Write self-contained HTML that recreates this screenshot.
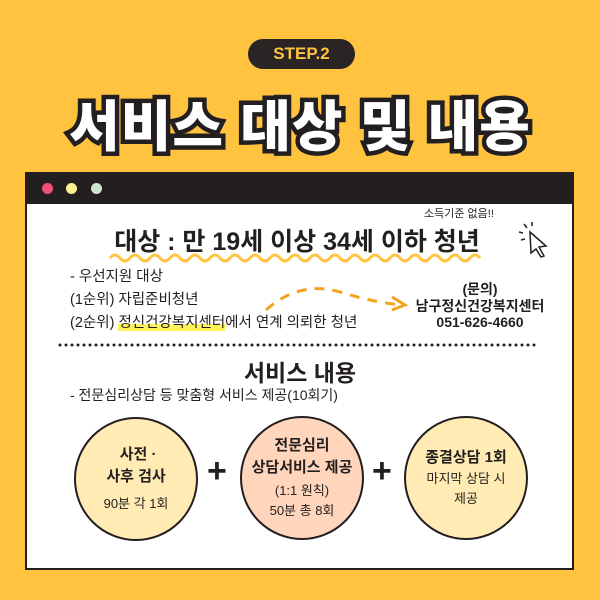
<!DOCTYPE html>
<html><head><meta charset="utf-8"><style>
*{margin:0;padding:0;box-sizing:border-box}
body{width:600px;height:600px;background:#FFC33F;position:relative;overflow:hidden;font-family:"Liberation Sans","Noto Sans CJK KR",sans-serif;color:#231f20}
.a{position:absolute;white-space:nowrap}
.pill{left:248px;top:39px;width:107px;height:30px;background:#2a2425;border-radius:15px;color:#FFC33F;font-weight:bold;font-size:17px;text-align:center;line-height:30px}
.title{left:0;width:600px;top:82px;text-align:center;font-size:55px;font-weight:900;color:#fff;-webkit-text-stroke:9px #231f20;paint-order:stroke fill;letter-spacing:1px}
.win{left:25px;top:172px;width:549px;height:398px;background:#fff;border:2px solid #231f20}
.bar{left:25px;top:172px;width:549px;height:32px;background:#231f20}
.dot{width:11px;height:11px;border-radius:50%;top:183px}
.c{position:absolute;width:124px;height:124px;border-radius:50%;border:2px solid #231f20;display:flex;flex-direction:column;align-items:center;justify-content:center;text-align:center;font-size:13px;line-height:20px}
.c b{font-size:15px;line-height:22px}
.plus{font-size:34px;font-weight:bold;top:452px}
.hl{background:linear-gradient(transparent 55%,#fff35a 55%)}
</style></head><body>
<div class="a pill">STEP.2</div>
<div class="a title">서비스 대상 및 내용</div>
<div class="a win"></div>
<div class="a bar"></div>
<div class="a dot" style="left:42px;background:#f2507a"></div>
<div class="a dot" style="left:66px;background:#fbf08d"></div>
<div class="a dot" style="left:91px;background:#cfe5cf"></div>
<div class="a" style="left:424px;top:205px;font-size:11px">소득기준 없음!!</div>
<div class="a" style="left:0;width:594px;text-align:center;top:222px;font-size:25px;font-weight:bold">대상 : 만 19세 이상 34세 이하 청년</div>
<svg class="a" style="left:0;top:0" width="600" height="600">
<path d="M110 258 q5 -6 10 0 t10 0 t10 0 t10 0 t10 0 t10 0 t10 0 t10 0 t10 0 t10 0 t10 0 t10 0 t10 0 t10 0 t10 0 t10 0 t10 0 t10 0 t10 0 t10 0 t10 0 t10 0 t10 0 t10 0 t10 0 t10 0 t10 0 t10 0 t10 0 t10 0 t10 0 t10 0 t10 0 t10 0 t10 0 t10 0 t10 0" fill="none" stroke="#FFC33F" stroke-width="3"/>
<path d="M266 310 Q300 280 340 292 T405 305" fill="none" stroke="#F5A21F" stroke-width="3" stroke-dasharray="10 8"/>
<path d="M392 297 L405 305 L392 310" fill="none" stroke="#F5A21F" stroke-width="3"/>
<line x1="60" y1="345" x2="540" y2="345" stroke="#231f20" stroke-width="3" stroke-dasharray="0 6" stroke-linecap="round"/>
<g stroke="#231f20" stroke-width="1.5" fill="none">
<path d="M530 232 L546 246 L539 247 L544 256 L541 257 L536 249 L531 253 Z" fill="#fff"/>
<path d="M524 224 l3 4 M519 232 l4 1 M532 222 l0 4 M521 240 l4 -1"/>
</g>
</svg>
<div class="a" style="left:70px;top:266px;font-size:14.5px;line-height:23px">- 우선지원 대상<br>(1순위) 자립준비청년<br>(2순위) <span class="hl">정신건강복지센터</span>에서 연계 의뢰한 청년</div>
<div class="a" style="left:405px;top:281px;width:150px;text-align:center;font-size:14px;font-weight:bold;line-height:16.5px">(문의)<br>남구정신건강복지센터<br>051-626-4660</div>
<div class="a" style="left:0;width:600px;text-align:center;top:354px;font-size:23px;font-weight:bold">서비스 내용</div>
<div class="a" style="left:70px;top:385px;font-size:14px">- 전문심리상담 등 맞춤형 서비스 제공(10회기)</div>
<div class="c" style="left:74px;top:417px;background:#FFEBB3"><b>&nbsp;사전 ·<br>사후 검사</b><span style="margin-top:6px">90분 각 1회</span></div>
<div class="a plus" style="left:207px">+</div>
<div class="c" style="left:240px;top:416px;background:#FFD5BB"><b>전문심리<br>상담서비스 제공</b><span style="margin-top:2px">(1:1 원칙)<br>50분 총 8회</span></div>
<div class="a plus" style="left:372px">+</div>
<div class="c" style="left:404px;top:416px;background:#FFEBB3"><b>종결상담 1회</b><span>마지막 상담 시<br>제공</span></div>
</body></html>
